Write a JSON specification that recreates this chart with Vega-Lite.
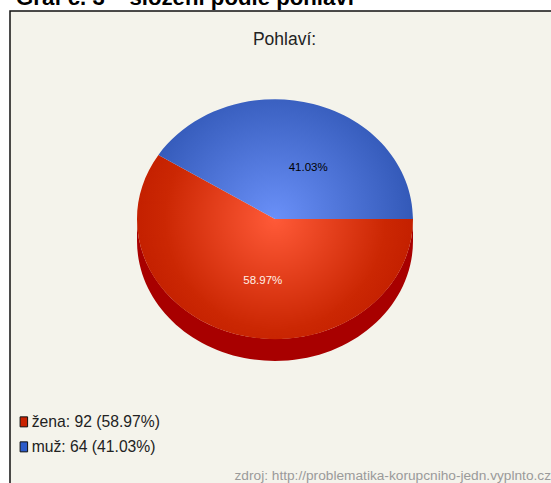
{"$schema":"https://vega.github.io/schema/vega-lite/v6.json","width":551,"height":483,"padding":0,"autosize":"none","background":"#ffffff","view":{"stroke":null},
"config":{"font":"Liberation Sans","axis":{"disable":true}},
"title":{"text":"Pohlaví:","font":"Liberation Sans","fontSize":17.5,"fontWeight":"normal","color":"#222222","anchor":"middle","frame":"group","dx":9,"dy":30,"offset":-45,"baseline":"alphabetic"},
"data":{"values":[{"pohlavi":"žena","pocet":92,"podil":58.97,"legenda":"žena: 92 (58.97%)"},{"pohlavi":"muž","pocet":64,"podil":41.03,"legenda":"muž: 64 (41.03%)"}]},
"layer":[
{"mark":{"type":"rect","fill":"#f4f3eb","stroke":"#111111","strokeWidth":1.5},"encoding":{"x":{"datum":-265,"type":"quantitative","scale":{"domain":[-275,276],"nice":false,"zero":false},"axis":null},"x2":{"datum":290},"y":{"datum":-208,"type":"quantitative","scale":{"domain":[264,-219],"nice":false,"zero":false},"axis":null},"y2":{"datum":280}},"transform":[{"filter":"datum.pohlavi=='žena'"}]},
{"transform":[{"filter":"datum.pohlavi=='žena'"}],"encoding":{"x":{"datum":0,"type":"quantitative"},"y":{"datum":0,"type":"quantitative"}},"mark":{"type":"point","filled":true,"opacity":1,"size":4,"fill":"#a80000","stroke":null,"shape":"M138,0A138,120 0 0 1 -138,0L-138,22A138,120 0 0 0 138,22Z"}},
{"transform":[{"filter":"datum.pohlavi=='žena'"}],"encoding":{"x":{"datum":0,"type":"quantitative"},"y":{"datum":0,"type":"quantitative"}},"mark":{"type":"point","filled":true,"opacity":1,"size":4,"stroke":null,"shape":"M-138,-120L-138,-120M138,120L138,120M0,0L138,0A138,120 0 1 1 -116.6,-64Z","fill":{"gradient":"radial","x1":0.5,"y1":0.5,"r1":0,"x2":0.5,"y2":0.5,"r2":0.5,"stops":[{"offset":0,"color":"#ff5a38"},{"offset":0.8,"color":"#cb2703"},{"offset":1,"color":"#c42000"}]}}},
{"transform":[{"filter":"datum.pohlavi=='muž'"}],"encoding":{"x":{"datum":0,"type":"quantitative"},"y":{"datum":0,"type":"quantitative"}},"mark":{"type":"point","filled":true,"opacity":1,"size":4,"stroke":null,"shape":"M-138,-120L-138,-120M138,120L138,120M0,0L-116.6,-64A138,120 0 0 1 138,0Z","fill":{"gradient":"radial","x1":0.5,"y1":0.5,"r1":0,"x2":0.5,"y2":0.5,"r2":0.5,"stops":[{"offset":0,"color":"#6a90f8"},{"offset":1,"color":"#3359b8"}]}}},
{"transform":[{"filter":"datum.pohlavi=='žena'"},{"calculate":"datum.podil/100*PI","as":"u"},{"calculate":"cos(datum.u)*69","as":"lx"},{"calculate":"sin(datum.u)*60","as":"ly"},{"calculate":"format(datum.podil,'.2f')+'%'","as":"t"}],"mark":{"type":"text","font":"Liberation Sans","fontSize":11.5,"color":"#fff0e6","dx":7,"dy":4},"encoding":{"x":{"field":"lx","type":"quantitative"},"y":{"field":"ly","type":"quantitative"},"text":{"field":"t"}}},
{"transform":[{"filter":"datum.pohlavi=='muž'"},{"calculate":"(58.97+datum.podil/2)/100*2*PI","as":"u"},{"calculate":"cos(datum.u)*69","as":"lx"},{"calculate":"sin(datum.u)*60","as":"ly"},{"calculate":"format(datum.podil,'.2f')+'%'","as":"t"}],"mark":{"type":"text","font":"Liberation Sans","fontSize":11.5,"color":"#000000","dx":14,"dy":7},"encoding":{"x":{"field":"lx","type":"quantitative"},"y":{"field":"ly","type":"quantitative"},"text":{"field":"t"}}},
{"mark":{"type":"point","filled":true,"opacity":0},"encoding":{"x":{"datum":0,"type":"quantitative"},"y":{"datum":0,"type":"quantitative"},"color":{"field":"legenda","type":"nominal","scale":{"domain":["žena: 92 (58.97%)","muž: 64 (41.03%)"],"range":["#c92200","#2c5bc9"]},"legend":{"title":null,"orient":"none","legendX":16,"legendY":414,"symbolType":"M-0.75,-1H0.75V1H-0.75Z","symbolSize":100,"symbolOpacity":1,"symbolStrokeColor":"#111111","symbolStrokeWidth":1,"labelFont":"Liberation Sans","labelFontSize":15.7,"labelColor":"#222222","labelOffset":0,"rowPadding":8,"labelLimit":300}}}},
{"transform":[{"filter":"datum.pohlavi=='žena'"}],"mark":{"type":"text","text":"Graf č. 3 – složení podle pohlaví","font":"Liberation Sans","fontWeight":"bold","fontSize":22.2,"color":"#000000","align":"left","baseline":"alphabetic"},"encoding":{"x":{"datum":-259,"type":"quantitative"},"y":{"datum":-214,"type":"quantitative"}}},
{"transform":[{"filter":"datum.pohlavi=='žena'"}],"mark":{"type":"text","text":"zdroj: http://problematika-korupcniho-jedn.vyplnto.cz","font":"Liberation Sans","fontSize":13.7,"color":"#9a9a9a","align":"right","baseline":"alphabetic"},"encoding":{"x":{"datum":276,"type":"quantitative"},"y":{"datum":261,"type":"quantitative"}}}
]}
